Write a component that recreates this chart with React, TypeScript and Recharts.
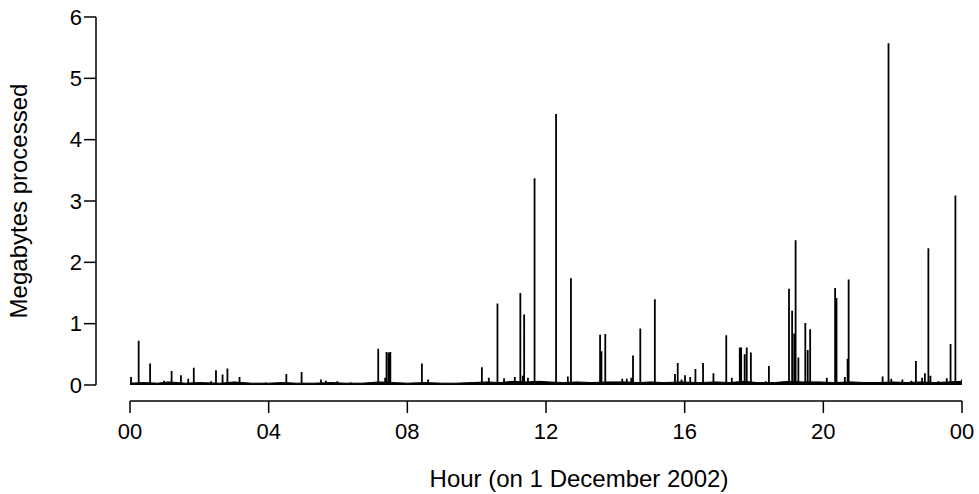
import React from 'react';
import { ComposedChart, Line, Area, XAxis, YAxis } from 'recharts';

// Hour of day (on 1 December 2002) of the larger transfers
const spikeHours = [
  0.03, 0.25, 0.58, 0.98, 1.2, 1.47, 1.68, 1.84, 2.34, 2.48,
  2.67, 2.81, 3.16, 3.92, 4.51, 4.95, 5.51, 5.65, 5.98, 6.37,
  7.05, 7.16, 7.36, 7.4, 7.46, 7.51, 7.67, 7.9, 8.42, 8.6,
  9.6, 10.0, 10.15, 10.35, 10.6, 10.79, 11.1, 11.26, 11.33, 11.37,
  11.48, 11.67, 11.77, 12.29, 12.63, 12.72, 13.56, 13.6, 13.71, 14.2,
  14.33, 14.46, 14.51, 14.72, 15.14, 15.72, 15.8, 15.91, 16.01, 16.16,
  16.31, 16.53, 16.83, 17.2, 17.36, 17.59, 17.63, 17.73, 17.79, 17.91,
  18.34, 18.43, 19.01, 19.1, 19.16, 19.2, 19.28, 19.48, 19.55, 19.62,
  20.1, 20.34, 20.38, 20.62, 20.7, 20.73, 21.49, 21.71, 21.88, 21.96,
  22.28, 22.54, 22.67, 22.85, 22.93, 23.03, 23.09, 23.32, 23.56, 23.67,
  23.81, 24.0,
];

// Megabytes processed at those times
const spikeMB = [
  0.13, 0.72, 0.35, 0.07, 0.23, 0.16, 0.1, 0.28, 0.06, 0.24,
  0.17, 0.27, 0.13, 0.04, 0.18, 0.21, 0.09, 0.07, 0.06, 0.04,
  0.04, 0.59, 0.12, 0.54, 0.53, 0.54, 0.03, 0.03, 0.35, 0.09,
  0.03, 0.04, 0.29, 0.12, 1.33, 0.11, 0.13, 1.5, 0.15, 1.15,
  0.12, 3.37, 0.05, 4.42, 0.14, 1.74, 0.82, 0.55, 0.83, 0.1,
  0.1, 0.12, 0.48, 0.92, 1.4, 0.18, 0.36, 0.09, 0.16, 0.13,
  0.26, 0.36, 0.19, 0.81, 0.12, 0.61, 0.61, 0.5, 0.61, 0.53,
  0.06, 0.31, 1.57, 1.21, 0.84, 2.36, 0.45, 1.01, 0.57, 0.91,
  0.12, 1.58, 1.42, 0.13, 0.43, 1.72, 0.05, 0.14, 5.57, 0.1,
  0.09, 0.07, 0.39, 0.12, 0.19, 2.23, 0.15, 0.06, 0.11, 0.67,
  3.09, 0.09,
];

// Background (small) traffic
const bgHours = [
  0, 0.4, 0.8, 1.1, 1.6, 2.0, 2.6, 3.0, 3.5, 4.0,
  4.4, 4.8, 5.3, 5.8, 6.2, 6.7, 7.2, 7.6, 8.0, 8.5,
  9.0, 9.4, 9.9, 10.3, 10.7, 11.0, 11.4, 11.8, 12.1, 12.5,
  12.9, 13.3, 13.8, 14.3, 14.7, 15.0, 15.4, 15.9, 16.4, 16.9,
  17.3, 17.7, 18.1, 18.6, 19.0, 19.4, 19.9, 20.3, 20.8, 21.2,
  21.6, 22.0, 22.4, 22.8, 23.2, 23.6, 24.0,
];
const bgMB = [
  0.03, 0.04, 0.03, 0.05, 0.03, 0.04, 0.03, 0.05, 0.03, 0.03,
  0.04, 0.03, 0.03, 0.04, 0.03, 0.03, 0.05, 0.04, 0.03, 0.04,
  0.03, 0.03, 0.04, 0.05, 0.04, 0.06, 0.05, 0.06, 0.05, 0.04,
  0.05, 0.04, 0.05, 0.05, 0.04, 0.05, 0.04, 0.05, 0.04, 0.05,
  0.04, 0.06, 0.04, 0.04, 0.06, 0.05, 0.05, 0.04, 0.05, 0.04,
  0.04, 0.05, 0.04, 0.05, 0.04, 0.05, 0.06,
];

const xTicks = [0, 4, 8, 12, 16, 20, 24];
const xTickLabels = ['00', '04', '08', '12', '16', '20', '00'];
const yTicks = [0, 1, 2, 3, 4, 5, 6];

// spike ("type h") table: each observation drawn as a vertical stroke from 0
const spikeRows: { h: number; mb: number }[] = [];
spikeHours.forEach((h, i) => {
  spikeRows.push({ h, mb: 0 });
  spikeRows.push({ h, mb: spikeMB[i] });
  spikeRows.push({ h, mb: 0 });
});
const bgRows = bgHours.map((h, i) => ({ h, mb: bgMB[i] }));

const FONT = '"Liberation Sans", Arial, Helvetica, sans-serif';

export default function App() {
  return (
    <div style={{ position: 'absolute', left: 0, top: 0, width: 979, height: 494, background: '#fff' }}>
      <style>{`
        .recharts-yAxis .recharts-cartesian-axis-line,
        .recharts-yAxis .recharts-cartesian-axis-tick-line { transform: translateX(-34px); }
        .recharts-xAxis .recharts-cartesian-axis-line,
        .recharts-xAxis .recharts-cartesian-axis-tick-line { transform: translateY(16px); }
      `}</style>
      <ComposedChart width={979} height={494} margin={{ top: 17, right: 17, bottom: 0, left: 0 }}>
        <XAxis
          dataKey="h"
          type="number"
          domain={[0, 24]}
          ticks={xTicks}
          tickFormatter={(v: number) => xTickLabels[xTicks.indexOf(v)]}
          height={109}
          tickSize={12}
          tickMargin={26}
          interval={0}
          allowDataOverflow
          axisLine={{ stroke: '#000', strokeWidth: 1.5 }}
          tickLine={{ stroke: '#000', strokeWidth: 1.5 }}
          tick={{ fill: '#000', fontSize: 22, fontFamily: FONT }}
          label={{
            value: 'Hour (on 1 December 2002)',
            position: 'insideBottom',
            offset: 7,
            dx: 33,
            fill: '#000',
            fontSize: 24,
            fontFamily: FONT,
          }}
        />
        <YAxis
          type="number"
          domain={[0, 6]}
          ticks={yTicks}
          width={130}
          tickSize={12}
          tickMargin={36}
          interval={0}
          allowDataOverflow
          axisLine={{ stroke: '#000', strokeWidth: 1.5 }}
          tickLine={{ stroke: '#000', strokeWidth: 1.5 }}
          tick={{ fill: '#000', fontSize: 22, fontFamily: FONT }}
          label={{
            value: 'Megabytes processed',
            angle: -90,
            position: 'insideLeft',
            offset: 18,
            fill: '#000',
            fontSize: 24,
            fontFamily: FONT,
            style: { textAnchor: 'middle' },
          }}
        />
        <Area
          data={bgRows}
          dataKey="mb"
          type="linear"
          stroke="#000"
          strokeWidth={1}
          fill="#000"
          fillOpacity={1}
          isAnimationActive={false}
          dot={false}
          activeDot={false}
        />
        <Line
          data={spikeRows}
          dataKey="mb"
          type="linear"
          stroke="#000"
          strokeWidth={1.8}
          dot={false}
          activeDot={false}
          isAnimationActive={false}
        />
      </ComposedChart>
    </div>
  );
}
